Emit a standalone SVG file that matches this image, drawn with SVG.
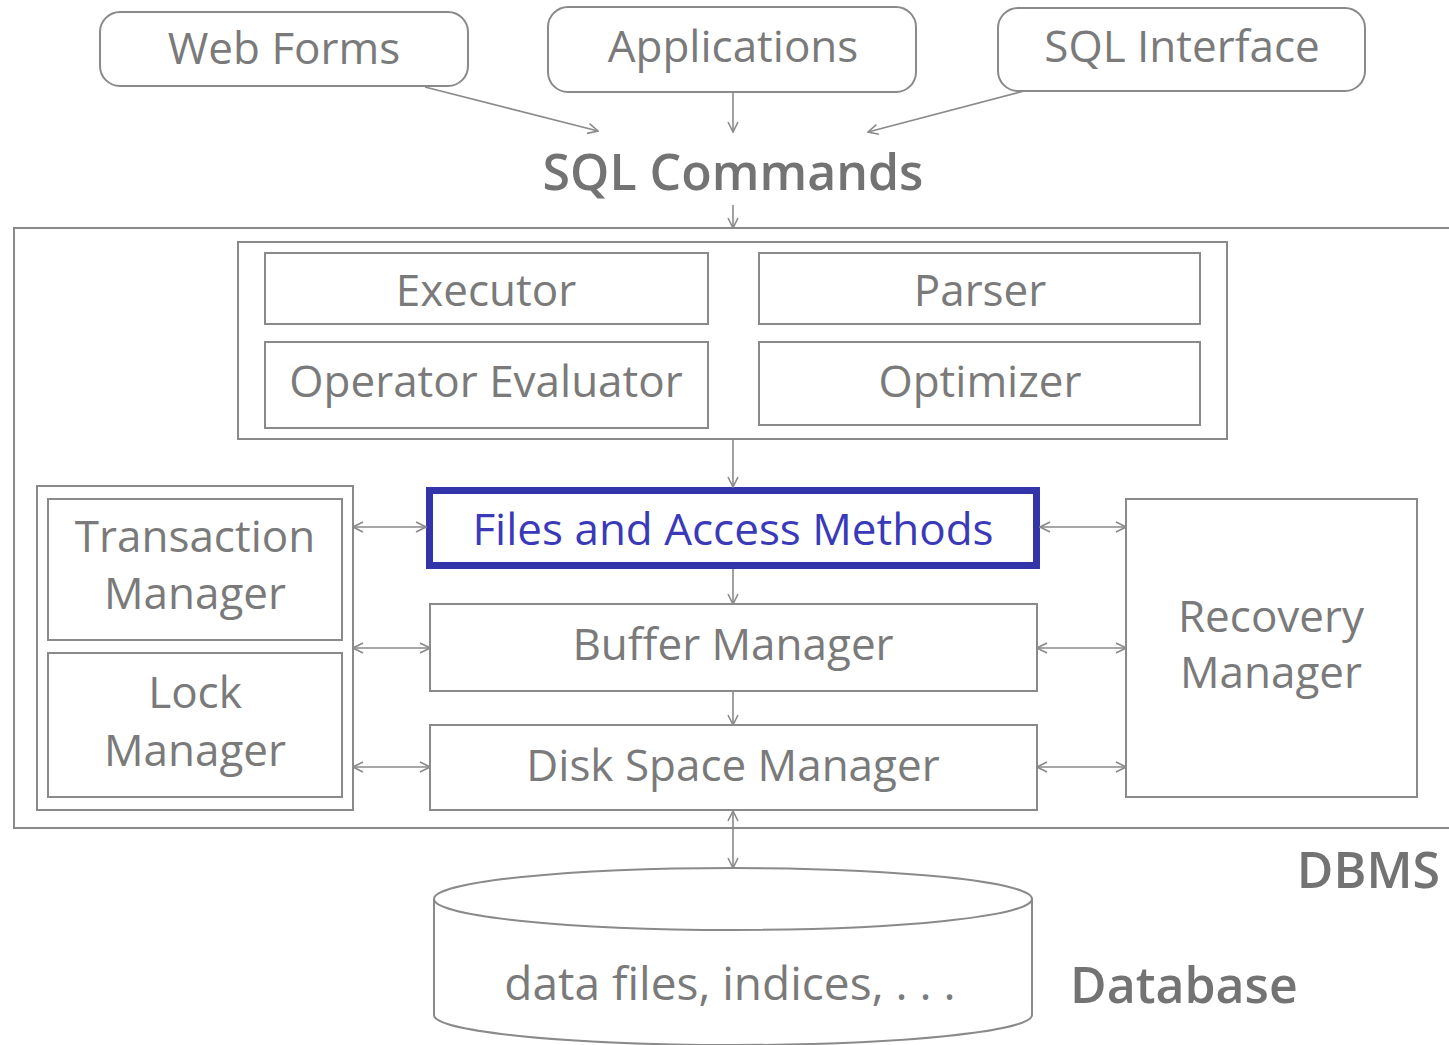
<svg xmlns="http://www.w3.org/2000/svg" width="1449" height="1045" viewBox="0 0 1449 1045">
<defs>
<style>
.box{fill:#fff;stroke:#8a8a8a;stroke-width:2}
.t{font-family:"Open Sans","Noto Sans","Liberation Sans",sans-serif;font-size:44px;fill:#7a7a7a;text-anchor:middle}
.b{font-family:"Open Sans","Noto Sans","Liberation Sans",sans-serif;font-weight:600;font-size:50px;fill:#737373}
.c{fill:none;stroke:#8a8a8a;stroke-width:1.6}
</style>
<marker id="ah" viewBox="0 0 12 12" refX="11" refY="6" markerWidth="12" markerHeight="12" markerUnits="userSpaceOnUse" orient="auto-start-reverse">
<path d="M1,1 L11,6 L1,11" fill="none" stroke="#8a8a8a" stroke-width="1.6"/>
</marker>
</defs>
<rect width="1449" height="1045" fill="#fff"/>

<g id="dbms">
<rect class="box" x="14" y="228" width="1440" height="600"/>
<text class="b" x="1440" y="888" text-anchor="end">DBMS</text>
</g>

<g id="web-forms">
<rect class="box" x="100" y="12" width="368" height="74" rx="20"/>
<text class="t" x="284" y="64">Web Forms</text>
</g>
<g id="applications">
<rect class="box" x="548" y="7" width="368" height="85" rx="20"/>
<text class="t" x="733" y="62">Applications</text>
</g>
<g id="sql-interface">
<rect class="box" x="998" y="8" width="367" height="83" rx="20"/>
<text class="t" x="1182" y="62">SQL Interface</text>
</g>
<g id="sql-commands">
<text class="b" x="733" y="190" text-anchor="middle" font-size="53">SQL Commands</text>
</g>

<g id="query-engine">
<rect class="box" x="238" y="242" width="989" height="197"/>
</g>
<g id="executor">
<rect class="box" x="265" y="253" width="443" height="71"/>
<text class="t" x="486" y="306">Executor</text>
</g>
<g id="parser">
<rect class="box" x="759" y="253" width="441" height="71"/>
<text class="t" x="980" y="306">Parser</text>
</g>
<g id="operator-evaluator">
<rect class="box" x="265" y="342" width="443" height="86"/>
<text class="t" x="486" y="397">Operator Evaluator</text>
</g>
<g id="optimizer">
<rect class="box" x="759" y="342" width="441" height="83"/>
<text class="t" x="980" y="397">Optimizer</text>
</g>

<g id="files-access">
<rect x="429.5" y="490.5" width="607" height="75" fill="#fff" stroke="#3333aa" stroke-width="7"/>
<text class="t" x="733" y="545" style="fill:#3a3ab8">Files and Access Methods</text>
</g>
<g id="buffer-manager">
<rect class="box" x="430" y="604" width="607" height="87"/>
<text class="t" x="733" y="660">Buffer Manager</text>
</g>
<g id="disk-space-manager">
<rect class="box" x="430" y="725" width="607" height="85"/>
<text class="t" x="733" y="781">Disk Space Manager</text>
</g>

<g id="tx-lock-group">
<rect class="box" x="37" y="486" width="316" height="324"/>
</g>
<g id="transaction-manager">
<rect class="box" x="48" y="499" width="294" height="141"/>
<text class="t" x="195" y="552">Transaction</text>
<text class="t" x="195" y="609">Manager</text>
</g>
<g id="lock-manager">
<rect class="box" x="48" y="653" width="294" height="144"/>
<text class="t" x="195" y="708">Lock</text>
<text class="t" x="195" y="766">Manager</text>
</g>
<g id="recovery-manager">
<rect class="box" x="1126" y="499" width="291" height="298"/>
<text class="t" x="1271" y="632">Recovery</text>
<text class="t" x="1271" y="688">Manager</text>
</g>

<g id="database">
<path class="box" d="M434,899 L434,1015 A299,30 0 0 0 1032,1015 L1032,899"/>
<ellipse class="box" cx="733" cy="899" rx="299" ry="31"/>
<text class="t" x="730" y="1000" font-size="46" style="font-size:46px">data files, indices, . . .</text>
<text class="b" x="1070" y="1003">Database</text>
</g>

<g id="connectors">
<line class="c" x1="425" y1="87" x2="598" y2="131" marker-end="url(#ah)"/>
<line class="c" x1="733" y1="92" x2="733" y2="132" marker-end="url(#ah)"/>
<line class="c" x1="1024" y1="91" x2="868" y2="132" marker-end="url(#ah)"/>
<line class="c" x1="733" y1="205" x2="733" y2="228" marker-end="url(#ah)"/>
<line class="c" x1="733" y1="439" x2="733" y2="487" marker-end="url(#ah)"/>
<line class="c" x1="733" y1="569" x2="733" y2="604" marker-end="url(#ah)"/>
<line class="c" x1="733" y1="691" x2="733" y2="725" marker-end="url(#ah)"/>
<line class="c" x1="353" y1="527" x2="426" y2="527" marker-start="url(#ah)" marker-end="url(#ah)"/>
<line class="c" x1="353" y1="648" x2="430" y2="648" marker-start="url(#ah)" marker-end="url(#ah)"/>
<line class="c" x1="353" y1="767" x2="430" y2="767" marker-start="url(#ah)" marker-end="url(#ah)"/>
<line class="c" x1="1040" y1="527" x2="1126" y2="527" marker-start="url(#ah)" marker-end="url(#ah)"/>
<line class="c" x1="1037" y1="648" x2="1126" y2="648" marker-start="url(#ah)" marker-end="url(#ah)"/>
<line class="c" x1="1037" y1="767" x2="1126" y2="767" marker-start="url(#ah)" marker-end="url(#ah)"/>
<line class="c" x1="733" y1="811" x2="733" y2="868" marker-start="url(#ah)" marker-end="url(#ah)"/>
</g>
</svg>
